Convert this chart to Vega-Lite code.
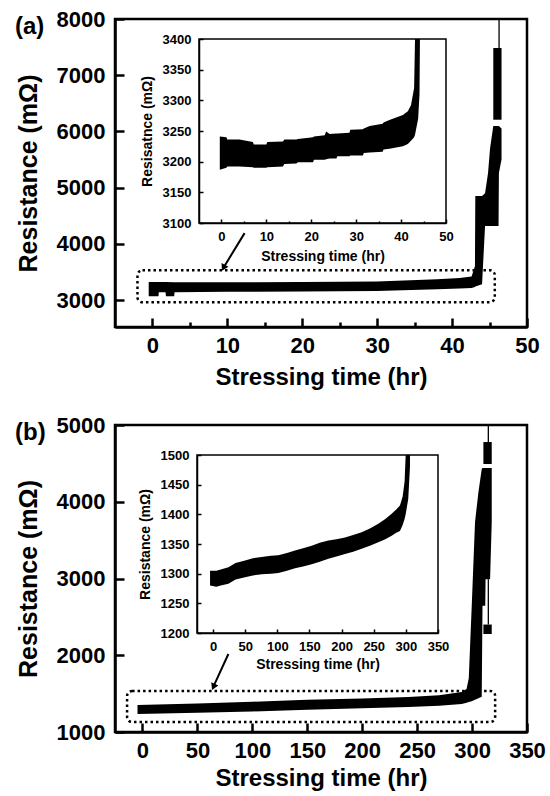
{
"$schema": "https://vega.github.io/schema/vega-lite/v6.json",
"padding": {"left": 15, "top": 8, "right": 5, "bottom": 5},
"spacing": 25,
"config": {
  "view": {"stroke": null},
  "font": "Liberation Sans",
  "axis": {"labelFont": "Liberation Sans", "titleFont": "Liberation Sans", "labelFontWeight": "bold", "titleFontWeight": "bold", "labelColor": "black", "titleColor": "black", "domainColor": "black", "grid": false, "labelFlush": false, "labelOverlap": false, "labelBound": false, "format": "d"},
  "title": {"font": "Liberation Sans", "fontWeight": "bold", "color": "black"}
},
"datasets": {
  "a_main": [
    {"t": -0.5, "lo": 3066, "hi": 3320, "s": "m"},
    {"t": 0.8, "lo": 3066, "hi": 3320, "s": "m"},
    {"t": 0.85, "lo": 3137, "hi": 3320, "s": "m"},
    {"t": 1.75, "lo": 3137, "hi": 3320, "s": "m"},
    {"t": 1.8, "lo": 3066, "hi": 3320, "s": "m"},
    {"t": 2.9, "lo": 3066, "hi": 3318, "s": "m"},
    {"t": 2.95, "lo": 3140, "hi": 3318, "s": "m"},
    {"t": 10, "lo": 3145, "hi": 3315, "s": "m"},
    {"t": 20, "lo": 3150, "hi": 3320, "s": "m"},
    {"t": 30, "lo": 3160, "hi": 3330, "s": "m"},
    {"t": 38, "lo": 3190, "hi": 3370, "s": "m"},
    {"t": 41, "lo": 3205, "hi": 3390, "s": "m"},
    {"t": 42.6, "lo": 3213, "hi": 3420, "s": "m"},
    {"t": 43.05, "lo": 3230, "hi": 3600, "s": "m"},
    {"t": 43.1, "lo": 3240, "hi": 4850, "s": "m"},
    {"t": 44.0, "lo": 3280, "hi": 4850, "s": "m"},
    {"t": 44.4, "lo": 4317, "hi": 4900, "s": "m"},
    {"t": 44.8, "lo": 4317, "hi": 5260, "s": "m"},
    {"t": 45.07, "lo": 4317, "hi": 5700, "s": "m"},
    {"t": 45.5, "lo": 4317, "hi": 6096, "s": "m"},
    {"t": 46.2, "lo": 4317, "hi": 6096, "s": "m"},
    {"t": 46.25, "lo": 5260, "hi": 6096, "s": "m"},
    {"t": 46.6, "lo": 5500, "hi": 6050, "s": "m"},
    {"t": 45.5, "lo": 6208, "hi": 7484, "s": "b"},
    {"t": 46.6, "lo": 6208, "hi": 7484, "s": "b"}
  ],
  "a_inset": [
    {"t": -0.37, "lo": 3187, "hi": 3241},
    {"t": 1.1, "lo": 3190, "hi": 3240},
    {"t": 1.3, "lo": 3192, "hi": 3236},
    {"t": 4.0, "lo": 3192, "hi": 3236},
    {"t": 7.0, "lo": 3191, "hi": 3232},
    {"t": 7.2, "lo": 3190, "hi": 3228},
    {"t": 10.0, "lo": 3190, "hi": 3228},
    {"t": 10.2, "lo": 3191, "hi": 3232},
    {"t": 13.7, "lo": 3192, "hi": 3233},
    {"t": 14, "lo": 3196, "hi": 3236},
    {"t": 16.7, "lo": 3197, "hi": 3236},
    {"t": 17, "lo": 3199, "hi": 3237},
    {"t": 20.4, "lo": 3199, "hi": 3240},
    {"t": 20.6, "lo": 3203, "hi": 3241},
    {"t": 23.0, "lo": 3203, "hi": 3243},
    {"t": 23.3, "lo": 3204, "hi": 3249},
    {"t": 24.1, "lo": 3205, "hi": 3245},
    {"t": 25.6, "lo": 3205, "hi": 3246},
    {"t": 25.8, "lo": 3209, "hi": 3246},
    {"t": 28.5, "lo": 3209, "hi": 3247},
    {"t": 28.7, "lo": 3210, "hi": 3252},
    {"t": 31.5, "lo": 3210, "hi": 3253},
    {"t": 31.7, "lo": 3214, "hi": 3254},
    {"t": 33, "lo": 3215, "hi": 3258},
    {"t": 35.9, "lo": 3216, "hi": 3262},
    {"t": 36.1, "lo": 3220, "hi": 3264},
    {"t": 37.4, "lo": 3221, "hi": 3268},
    {"t": 40.4, "lo": 3225, "hi": 3276},
    {"t": 41.5, "lo": 3229, "hi": 3282},
    {"t": 42.2, "lo": 3234, "hi": 3292},
    {"t": 42.9, "lo": 3240, "hi": 3320},
    {"t": 43.1, "lo": 3244, "hi": 3400},
    {"t": 43.8, "lo": 3270, "hi": 3400},
    {"t": 44.1, "lo": 3310, "hi": 3400},
    {"t": 44.2, "lo": 3400, "hi": 3400}
  ],
  "b_main": [
    {"t": -4.5, "lo": 1235, "hi": 1352, "s": "m"},
    {"t": 50, "lo": 1250, "hi": 1372, "s": "m"},
    {"t": 100, "lo": 1268, "hi": 1395, "s": "m"},
    {"t": 150, "lo": 1290, "hi": 1420, "s": "m"},
    {"t": 200, "lo": 1308, "hi": 1438, "s": "m"},
    {"t": 242, "lo": 1326, "hi": 1456, "s": "m"},
    {"t": 270, "lo": 1342, "hi": 1480, "s": "m"},
    {"t": 290.6, "lo": 1365, "hi": 1521, "s": "m"},
    {"t": 295, "lo": 1380, "hi": 1560, "s": "m"},
    {"t": 297, "lo": 1390, "hi": 1700, "s": "m"},
    {"t": 299.7, "lo": 1400, "hi": 2645, "s": "m"},
    {"t": 302.7, "lo": 1420, "hi": 3736, "s": "m"},
    {"t": 305.8, "lo": 1440, "hi": 4127, "s": "m"},
    {"t": 308.8, "lo": 1460, "hi": 4427, "s": "m"},
    {"t": 309.5, "lo": 2645, "hi": 4440, "s": "m"},
    {"t": 312, "lo": 2645, "hi": 4440, "s": "m"},
    {"t": 312.3, "lo": 2990, "hi": 4440, "s": "m"},
    {"t": 316.4, "lo": 2990, "hi": 4440, "s": "m"},
    {"t": 317.9, "lo": 3736, "hi": 4440, "s": "m"},
    {"t": 310.3, "lo": 4492, "hi": 4778, "s": "b"},
    {"t": 317.9, "lo": 4492, "hi": 4778, "s": "b"},
    {"t": 310.3, "lo": 2277, "hi": 2400, "s": "c"},
    {"t": 317.9, "lo": 2277, "hi": 2400, "s": "c"}
  ],
  "b_inset": [
    {"t": -4.7, "lo": 1280, "hi": 1305},
    {"t": 5, "lo": 1278, "hi": 1305},
    {"t": 12, "lo": 1280, "hi": 1307},
    {"t": 23.9, "lo": 1283, "hi": 1311},
    {"t": 35, "lo": 1290, "hi": 1318},
    {"t": 49.8, "lo": 1294, "hi": 1322},
    {"t": 62, "lo": 1297, "hi": 1326},
    {"t": 75.7, "lo": 1299, "hi": 1328},
    {"t": 90, "lo": 1300, "hi": 1330},
    {"t": 101.6, "lo": 1301, "hi": 1331},
    {"t": 115, "lo": 1305, "hi": 1335},
    {"t": 127.5, "lo": 1309, "hi": 1339},
    {"t": 140, "lo": 1312, "hi": 1343},
    {"t": 153.5, "lo": 1316, "hi": 1347},
    {"t": 166, "lo": 1320, "hi": 1352},
    {"t": 179.4, "lo": 1325, "hi": 1356},
    {"t": 192, "lo": 1329, "hi": 1358},
    {"t": 205.3, "lo": 1333, "hi": 1361},
    {"t": 218, "lo": 1337, "hi": 1365},
    {"t": 231.2, "lo": 1342, "hi": 1370},
    {"t": 244, "lo": 1347, "hi": 1376},
    {"t": 257.1, "lo": 1353, "hi": 1384},
    {"t": 268, "lo": 1358, "hi": 1392},
    {"t": 277.9, "lo": 1364, "hi": 1401},
    {"t": 285, "lo": 1369, "hi": 1408},
    {"t": 290.8, "lo": 1372, "hi": 1415},
    {"t": 295, "lo": 1382, "hi": 1430},
    {"t": 298, "lo": 1392, "hi": 1455},
    {"t": 299.7, "lo": 1400, "hi": 1500},
    {"t": 303.7, "lo": 1426, "hi": 1500},
    {"t": 306.4, "lo": 1480, "hi": 1500}
  ]
},
"vconcat": [
  {
    "width": 412, "height": 308,
    "title": {"text": "(a)", "anchor": "start", "frame": "group", "fontSize": 24, "dx": -100, "offset": -31},
    "resolve": {"scale": {"x": "independent", "y": "independent"}, "axis": {"x": "independent", "y": "independent"}},
    "layer": [
      {
        "layer": [
          {
            "data": {"name": "a_main"},
            "mark": {"type": "area", "color": "black", "clip": true},
            "encoding": {
              "x": {"field": "t", "type": "quantitative", "scale": {"domain": [-5, 50], "nice": false, "zero": false},
                "axis": {"orient": "bottom", "title": "Stressing time (hr)", "values": [0,5,10,15,20,25,30,35,40,45,50], "ticks": true, "tickOpacity": 1,
                  "labelExpr": "datum.value % 10 === 0 ? datum.label : ''",
                  "tickSize": {"condition": {"test": "datum.value % 10 === 0", "value": -9}, "value": -5}, "tickColor": "black",
                  "tickWidth": 2.5, "domainWidth": 2.5, "labelFontSize": 22, "labelPadding": 17, "titleFontSize": 24, "titlePadding": 5}},
              "y": {"field": "lo", "type": "quantitative", "scale": {"domain": [2520, 8000], "nice": false, "zero": false},
                "axis": {"orient": "left", "title": "Resistance (mΩ)", "values": [3000,3500,4000,4500,5000,5500,6000,6500,7000,7500,8000], "ticks": true, "tickOpacity": 1,
                  "labelExpr": "datum.value % 1000 === 0 ? datum.label : ''",
                  "tickSize": {"condition": {"test": "datum.value % 1000 === 0", "value": -9}, "value": -5}, "tickColor": "black",
                  "tickWidth": 2.5, "domainWidth": 2.5, "labelFontSize": 22, "labelPadding": 19, "titleFontSize": 25, "titlePadding": 15}},
              "y2": {"field": "hi"},
              "detail": {"field": "s"}
            }
          },
          {
            "data": {"values": [{}]},
            "mark": {"type": "rect", "filled": false, "stroke": "black", "strokeWidth": 2.5},
            "encoding": {"x": {"datum": -5}, "x2": {"datum": 50}, "y": {"datum": 2520}, "y2": {"datum": 8000}}
          },
          {
            "data": {"values": [{}]},
            "mark": {"type": "rule", "color": "black", "strokeWidth": 1.3},
            "encoding": {"x": {"datum": 46.27}, "y": {"datum": 7484}, "y2": {"datum": 8000}}
          },
          {
            "data": {"values": [{}]},
            "mark": {"type": "rect", "filled": false, "stroke": "black", "strokeWidth": 2.5, "strokeDash": [2.5, 3], "cornerRadius": 5},
            "encoding": {"x": {"datum": -2}, "x2": {"datum": 45.7}, "y": {"datum": 2960}, "y2": {"datum": 3530}}
          },
          {
            "data": {"values": [{}]},
            "mark": {"type": "rule", "color": "black", "strokeWidth": 2},
            "encoding": {"x": {"datum": 12.3}, "y": {"datum": 4190}, "x2": {"datum": 9.5}, "y2": {"datum": 3580}}
          },
          {
            "data": {"values": [{}]},
            "mark": {"type": "point", "shape": "triangle", "filled": true, "color": "black", "opacity": 1, "size": 60, "angle": 207},
            "encoding": {"x": {"datum": 9.55}, "y": {"datum": 3590}}
          }
        ]
      },
      {
        "layer": [
          {
            "data": {"name": "a_inset"},
            "mark": {"type": "area", "color": "black", "clip": false},
            "encoding": {
              "x": {"field": "t", "type": "quantitative", "scale": {"domain": [-5, 50], "nice": false, "zero": false, "range": [84, 331]},
                "axis": {"orient": "bottom", "offset": -104, "title": "Stressing time (hr)", "values": [0,5,10,15,20,25,30,35,40,45,50], "ticks": true, "tickOpacity": 1,
                  "labelExpr": "datum.value % 10 === 0 ? datum.label : ''",
                  "tickSize": {"condition": {"test": "datum.value % 10 === 0", "value": -4}, "value": -2}, "tickColor": "black",
                  "tickWidth": 1.5, "domainWidth": 1.5, "labelFontSize": 13, "labelPadding": 11, "titleFontSize": 14, "titlePadding": 4}},
              "y": {"field": "lo", "type": "quantitative", "scale": {"domain": [3100, 3400], "nice": false, "zero": false, "range": [204, 20]},
                "axis": {"orient": "left", "offset": -84, "title": "Resisatnce (mΩ)", "values": [3100,3125,3150,3175,3200,3225,3250,3275,3300,3325,3350,3375,3400], "ticks": true, "tickOpacity": 1,
                  "labelExpr": "datum.value % 50 === 0 ? datum.label : ''",
                  "tickSize": {"condition": {"test": "datum.value % 50 === 0", "value": -4}, "value": -2}, "tickColor": "black",
                  "tickWidth": 1.5, "domainWidth": 1.5, "labelFontSize": 13, "labelPadding": 12, "titleFontSize": 14, "titlePadding": 8}},
              "y2": {"field": "hi"}
            }
          },
          {
            "data": {"values": [{}]},
            "mark": {"type": "rect", "filled": false, "stroke": "black", "strokeWidth": 1.5},
            "encoding": {"x": {"datum": -5}, "x2": {"datum": 50}, "y": {"datum": 3100}, "y2": {"datum": 3400}}
          }
        ]
      }
    ]
  },
  {
    "width": 412, "height": 307,
    "title": {"text": "(b)", "anchor": "start", "frame": "group", "fontSize": 24, "dx": -100, "offset": -31},
    "resolve": {"scale": {"x": "independent", "y": "independent"}, "axis": {"x": "independent", "y": "independent"}},
    "layer": [
      {
        "layer": [
          {
            "data": {"name": "b_main"},
            "mark": {"type": "area", "color": "black", "clip": true},
            "encoding": {
              "x": {"field": "t", "type": "quantitative", "scale": {"domain": [-25, 350], "nice": false, "zero": false},
                "axis": {"orient": "bottom", "title": "Stressing time (hr)", "values": [0,25,50,75,100,125,150,175,200,225,250,275,300,325,350], "ticks": true, "tickOpacity": 1,
                  "labelExpr": "datum.value % 50 === 0 ? datum.label : ''",
                  "tickSize": {"condition": {"test": "datum.value % 50 === 0", "value": -9}, "value": -5}, "tickColor": "black",
                  "tickWidth": 2.5, "domainWidth": 2.5, "labelFontSize": 22, "labelPadding": 17, "titleFontSize": 24, "titlePadding": 5}},
              "y": {"field": "lo", "type": "quantitative", "scale": {"domain": [1000, 5000], "nice": false, "zero": false},
                "axis": {"orient": "left", "title": "Resistance (mΩ)", "values": [1000,1250,1500,1750,2000,2250,2500,2750,3000,3250,3500,3750,4000,4250,4500,4750,5000], "ticks": true, "tickOpacity": 1,
                  "labelExpr": "datum.value % 500 === 0 ? datum.label : ''",
                  "tickSize": {"condition": {"test": "datum.value % 500 === 0", "value": -9}, "value": -5}, "tickColor": "black",
                  "tickWidth": 2.5, "domainWidth": 2.5, "labelFontSize": 22, "labelPadding": 19, "titleFontSize": 25, "titlePadding": 15}},
              "y2": {"field": "hi"},
              "detail": {"field": "s"}
            }
          },
          {
            "data": {"values": [{}]},
            "mark": {"type": "rect", "filled": false, "stroke": "black", "strokeWidth": 2.5},
            "encoding": {"x": {"datum": -25}, "x2": {"datum": 350}, "y": {"datum": 1000}, "y2": {"datum": 5000}}
          },
          {
            "data": {"values": [{}]},
            "mark": {"type": "rule", "color": "black", "strokeWidth": 1.3},
            "encoding": {"x": {"datum": 314.8}, "y": {"datum": 4778}, "y2": {"datum": 5000}}
          },
          {
            "data": {"values": [{}]},
            "mark": {"type": "rule", "color": "black", "strokeWidth": 1.3},
            "encoding": {"x": {"datum": 314.8}, "y": {"datum": 2400}, "y2": {"datum": 2990}}
          },
          {
            "data": {"values": [{}]},
            "mark": {"type": "rect", "filled": false, "stroke": "black", "strokeWidth": 2.5, "strokeDash": [2.5, 3], "cornerRadius": 5},
            "encoding": {"x": {"datum": -14}, "x2": {"datum": 321}, "y": {"datum": 1130}, "y2": {"datum": 1534}}
          },
          {
            "data": {"values": [{}]},
            "mark": {"type": "rule", "color": "black", "strokeWidth": 2},
            "encoding": {"x": {"datum": 78.2}, "y": {"datum": 2016}, "x2": {"datum": 65.5}, "y2": {"datum": 1620}}
          },
          {
            "data": {"values": [{}]},
            "mark": {"type": "point", "shape": "triangle", "filled": true, "color": "black", "opacity": 1, "size": 60, "angle": 204},
            "encoding": {"x": {"datum": 65}, "y": {"datum": 1600}}
          }
        ]
      },
      {
        "layer": [
          {
            "data": {"name": "b_inset"},
            "mark": {"type": "area", "color": "black", "clip": false},
            "encoding": {
              "x": {"field": "t", "type": "quantitative", "scale": {"domain": [-25, 350], "nice": false, "zero": false, "range": [82, 323]},
                "axis": {"orient": "bottom", "offset": -99, "title": "Stressing time (hr)", "values": [0,25,50,75,100,125,150,175,200,225,250,275,300,325,350], "ticks": true, "tickOpacity": 1,
                  "labelExpr": "datum.value % 50 === 0 ? datum.label : ''",
                  "tickSize": {"condition": {"test": "datum.value % 50 === 0", "value": -4}, "value": -2}, "tickColor": "black",
                  "tickWidth": 1.5, "domainWidth": 1.5, "labelFontSize": 13, "labelPadding": 11, "titleFontSize": 14, "titlePadding": 4}},
              "y": {"field": "lo", "type": "quantitative", "scale": {"domain": [1200, 1500], "nice": false, "zero": false, "range": [208, 30]},
                "axis": {"orient": "left", "offset": -82, "title": "Resistance (mΩ)", "values": [1200,1225,1250,1275,1300,1325,1350,1375,1400,1425,1450,1475,1500], "ticks": true, "tickOpacity": 1,
                  "labelExpr": "datum.value % 50 === 0 ? datum.label : ''",
                  "tickSize": {"condition": {"test": "datum.value % 50 === 0", "value": -4}, "value": -2}, "tickColor": "black",
                  "tickWidth": 1.5, "domainWidth": 1.5, "labelFontSize": 13, "labelPadding": 12, "titleFontSize": 14, "titlePadding": 8}},
              "y2": {"field": "hi"}
            }
          },
          {
            "data": {"values": [{}]},
            "mark": {"type": "rect", "filled": false, "stroke": "black", "strokeWidth": 1.5},
            "encoding": {"x": {"datum": -25}, "x2": {"datum": 350}, "y": {"datum": 1200}, "y2": {"datum": 1500}}
          }
        ]
      }
    ]
  }
]
}
